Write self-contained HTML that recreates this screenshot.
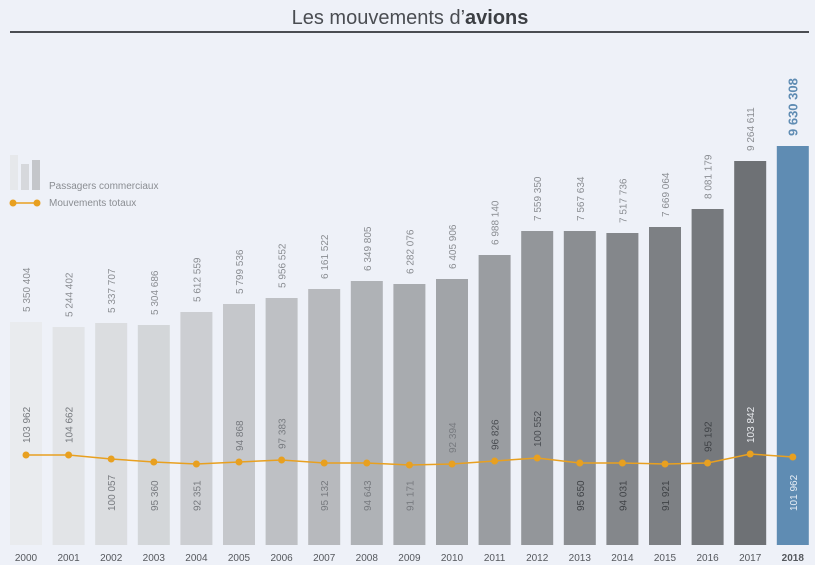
<!DOCTYPE html>
<html><head><meta charset="utf-8"><style>
html,body{margin:0;padding:0;background:#eef1f8;}
svg{display:block;font-family:"Liberation Sans",sans-serif;}
</style></head><body>
<svg width="815" height="565" viewBox="0 0 815 565" xmlns="http://www.w3.org/2000/svg">
<rect width="815" height="565" fill="#eef1f8"/>
<text x="410" y="24" text-anchor="middle" font-size="20" fill="#4a4d52">Les mouvements d’<tspan font-weight="bold" fill="#3c3f44">avions</tspan></text>
<rect x="10" y="31" width="799" height="2" fill="#4a4d52"/>
<rect x="10" y="155" width="8" height="35" fill="#e6e8eb"/>
<rect x="21" y="164" width="8" height="26" fill="#d6d8dc"/>
<rect x="32" y="160" width="8" height="30" fill="#c4c6ca"/>
<text x="49" y="189" font-size="10" fill="#8a8d92">Passagers commerciaux</text>
<line x1="13" y1="203" x2="37" y2="203" stroke="#e8a020" stroke-width="1.5"/>
<circle cx="13" cy="203" r="3.5" fill="#e8a020"/><circle cx="37" cy="203" r="3.5" fill="#e8a020"/>
<text x="49" y="206" font-size="10" fill="#8a8d92">Mouvements totaux</text>
<g>
<rect x="10" y="322" width="32" height="223" fill="#e9ebee"/>
<rect x="52.6" y="327" width="32" height="218" fill="#e2e4e7"/>
<rect x="95.2" y="323" width="32" height="222" fill="#dbdde0"/>
<rect x="137.8" y="325" width="32" height="220" fill="#d3d6d9"/>
<rect x="180.4" y="312" width="32" height="233" fill="#ccced2"/>
<rect x="223" y="304" width="32" height="241" fill="#c5c7cb"/>
<rect x="265.6" y="298" width="32" height="247" fill="#bec0c4"/>
<rect x="308.2" y="289" width="32" height="256" fill="#b7b9bd"/>
<rect x="350.8" y="281" width="32" height="264" fill="#afb2b6"/>
<rect x="393.4" y="284" width="32" height="261" fill="#a8abaf"/>
<rect x="436" y="279" width="32" height="266" fill="#a1a4a8"/>
<rect x="478.6" y="255" width="32" height="290" fill="#9a9da1"/>
<rect x="521.2" y="231" width="32" height="314" fill="#93969a"/>
<rect x="563.8" y="231" width="32" height="314" fill="#8b8e92"/>
<rect x="606.4" y="233" width="32" height="312" fill="#84878b"/>
<rect x="649" y="227" width="32" height="318" fill="#7d8084"/>
<rect x="691.6" y="209" width="32" height="336" fill="#76797d"/>
<rect x="734.2" y="161" width="32" height="384" fill="#6e7175"/>
<rect x="776.8" y="146" width="32" height="399" fill="#5f8cb3"/>
</g>
<g font-size="10" fill="#8a8d92">
<text transform="translate(30,312) rotate(-90)">5 350 404</text>
<text transform="translate(72.6,317) rotate(-90)">5 244 402</text>
<text transform="translate(115.2,313) rotate(-90)">5 337 707</text>
<text transform="translate(157.8,315) rotate(-90)">5 304 686</text>
<text transform="translate(200.4,302) rotate(-90)">5 612 559</text>
<text transform="translate(243,294) rotate(-90)">5 799 536</text>
<text transform="translate(285.6,288) rotate(-90)">5 956 552</text>
<text transform="translate(328.2,279) rotate(-90)">6 161 522</text>
<text transform="translate(370.8,271) rotate(-90)">6 349 805</text>
<text transform="translate(413.4,274) rotate(-90)">6 282 076</text>
<text transform="translate(456,269) rotate(-90)">6 405 906</text>
<text transform="translate(498.6,245) rotate(-90)">6 988 140</text>
<text transform="translate(541.2,221) rotate(-90)">7 559 350</text>
<text transform="translate(583.8,221) rotate(-90)">7 567 634</text>
<text transform="translate(626.4,223) rotate(-90)">7 517 736</text>
<text transform="translate(669,217) rotate(-90)">7 669 064</text>
<text transform="translate(711.6,199) rotate(-90)">8 081 179</text>
<text transform="translate(754.2,151) rotate(-90)">9 264 611</text>
<text transform="translate(797.5,136) rotate(-90)" font-size="13" font-weight="bold" fill="#5f8cb3">9 630 308</text>
</g>
<polyline fill="none" stroke="#e8a020" stroke-width="1.5" points="26,455 68.6,455 111.2,459 153.8,462 196.4,464 239,462 281.6,460 324.2,463 366.8,463 409.4,465 452,464 494.6,461 537.2,458 579.8,463 622.4,463 665,464 707.6,463 750.2,454 792.8,457"/>
<g fill="#e8a020">
<circle cx="26" cy="455" r="3.5"/><circle cx="68.6" cy="455" r="3.5"/><circle cx="111.2" cy="459" r="3.5"/><circle cx="153.8" cy="462" r="3.5"/><circle cx="196.4" cy="464" r="3.5"/><circle cx="239" cy="462" r="3.5"/><circle cx="281.6" cy="460" r="3.5"/><circle cx="324.2" cy="463" r="3.5"/><circle cx="366.8" cy="463" r="3.5"/><circle cx="409.4" cy="465" r="3.5"/><circle cx="452" cy="464" r="3.5"/><circle cx="494.6" cy="461" r="3.5"/><circle cx="537.2" cy="458" r="3.5"/><circle cx="579.8" cy="463" r="3.5"/><circle cx="622.4" cy="463" r="3.5"/><circle cx="665" cy="464" r="3.5"/><circle cx="707.6" cy="463" r="3.5"/><circle cx="750.2" cy="454" r="3.5"/><circle cx="792.8" cy="457" r="3.5"/>
</g>
<g font-size="10" fill="#777a7f">
<text transform="translate(30,443) rotate(-90)">103 962</text>
<text transform="translate(72.6,443) rotate(-90)">104 662</text>
<text transform="translate(115.2,511) rotate(-90)">100 057</text>
<text transform="translate(157.8,511) rotate(-90)">95 360</text>
<text transform="translate(200.4,511) rotate(-90)">92 351</text>
<text transform="translate(243,451) rotate(-90)">94 868</text>
<text transform="translate(285.6,449) rotate(-90)">97 383</text>
<text transform="translate(328.2,511) rotate(-90)">95 132</text>
<text transform="translate(370.8,511) rotate(-90)">94 643</text>
<text transform="translate(413.4,511) rotate(-90)">91 171</text>
<text transform="translate(456,453) rotate(-90)">92 394</text>
<text transform="translate(498.6,450) rotate(-90)" fill="#4a4d52">96 826</text>
<text transform="translate(541.2,447) rotate(-90)" fill="#4a4d52">100 552</text>
<text transform="translate(583.8,511) rotate(-90)" fill="#3f4246">95 650</text>
<text transform="translate(626.4,511) rotate(-90)" fill="#3f4246">94 031</text>
<text transform="translate(669,511) rotate(-90)" fill="#3f4246">91 921</text>
<text transform="translate(711.6,452) rotate(-90)" fill="#3f4246">95 192</text>
<text transform="translate(754.2,443) rotate(-90)" fill="#e8eaee">103 842</text>
<text transform="translate(796.8,511) rotate(-90)" fill="#e8eef5">101 962</text>
</g>
<g font-size="10" fill="#55585d" text-anchor="middle">
<text x="26" y="561">2000</text><text x="68.6" y="561">2001</text><text x="111.2" y="561">2002</text><text x="153.8" y="561">2003</text><text x="196.4" y="561">2004</text><text x="239" y="561">2005</text><text x="281.6" y="561">2006</text><text x="324.2" y="561">2007</text><text x="366.8" y="561">2008</text><text x="409.4" y="561">2009</text><text x="452" y="561">2010</text><text x="494.6" y="561">2011</text><text x="537.2" y="561">2012</text><text x="579.8" y="561">2013</text><text x="622.4" y="561">2014</text><text x="665" y="561">2015</text><text x="707.6" y="561">2016</text><text x="750.2" y="561">2017</text><text x="792.8" y="561" font-weight="bold">2018</text>
</g>
</svg>
</body></html>
